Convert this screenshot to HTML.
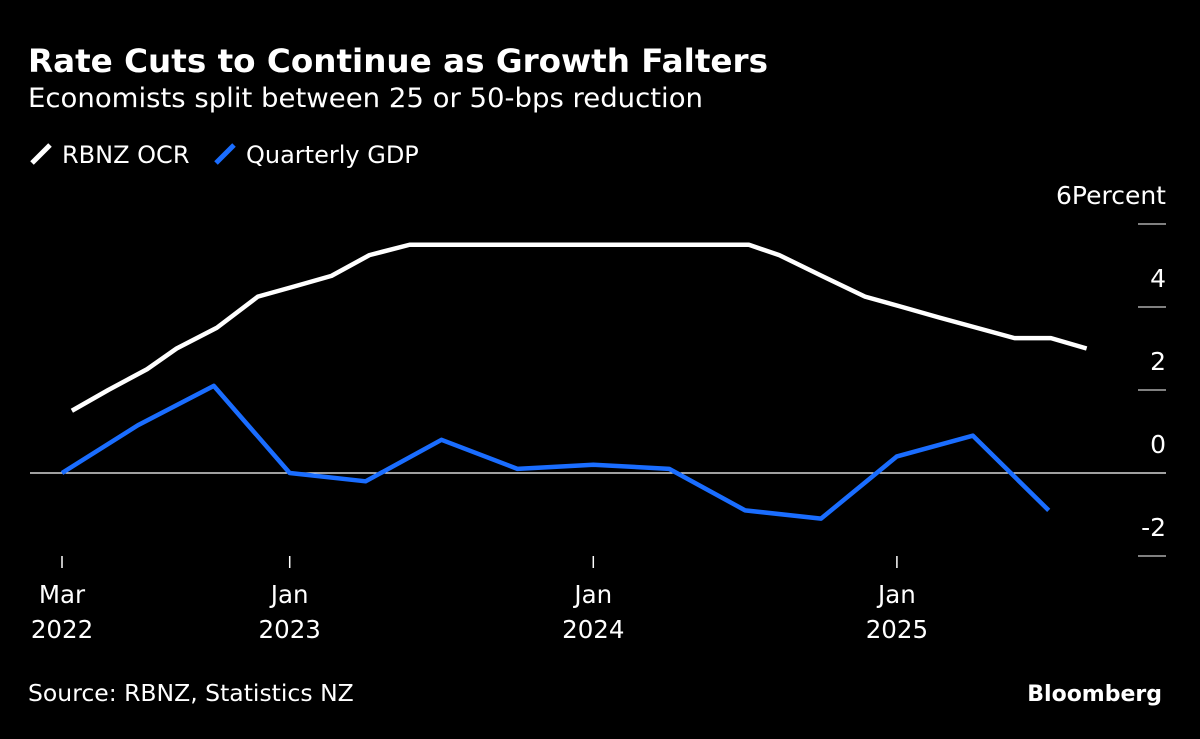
<!DOCTYPE html>
<html><head><meta charset="utf-8"><style>
body{margin:0;background:#000;width:1200px;height:735px;overflow:hidden;font-family:"DejaVu Sans","Liberation Sans",sans-serif;color:#fff}
svg text{font-family:"DejaVu Sans","Liberation Sans",sans-serif}
</style></head><body>
<svg width="1200" height="735">
<rect width="1200" height="735" fill="#000"/>
<text x="28" y="72" font-size="32" font-weight="bold" fill="#fff" textLength="740" lengthAdjust="spacingAndGlyphs">Rate Cuts to Continue as Growth Falters</text>
<text x="28" y="107" font-size="27" fill="#fff" textLength="675" lengthAdjust="spacingAndGlyphs">Economists split between 25 or 50-bps reduction</text>
<g>
<line x1="32" y1="163" x2="50" y2="145" stroke="#fff" stroke-width="5"/>
<text x="62" y="163" font-size="24" fill="#fff">RBNZ OCR</text>
<line x1="216" y1="163" x2="234" y2="145" stroke="#1a6dff" stroke-width="5"/>
<text x="246" y="163" font-size="24" fill="#fff">Quarterly GDP</text>
</g>
<g id="axes"></g>
<g id="marks"></g>
<text x="28" y="701" font-size="23.5" fill="#fff">Source: RBNZ, Statistics NZ</text>
<text x="1162" y="701" font-size="22" font-weight="bold" fill="#fff" text-anchor="end">Bloomberg</text>
</svg>
<script>
const yTicks=[6,4,2,0,-2];
const xTickPos=[0,3,7,11];
const xTickMonth=["Mar","Jan","Jan","Jan"];
const xTickYear=["2022","2023","2024","2025"];
const gdpX=[0,1,2,3,4,5,6,7,8,9,10,11,12,13];
const gdpVals=[0,1.15,2.1,0,-0.2,0.8,0.1,0.2,0.1,-0.9,-1.1,0.4,0.9,-0.9];
const ocrX=[0.13,0.61,1.12,1.51,2.04,2.58,3.07,3.55,4.05,4.58,9.05,9.45,10.01,10.58,11.07,11.55,12.05,12.55,13.03,13.5];
const ocrVals=[1.5,2.0,2.5,3.0,3.5,4.25,4.5,4.75,5.25,5.5,5.5,5.25,4.75,4.25,4.0,3.75,3.5,3.25,3.25,3.0];
const NS="http://www.w3.org/2000/svg";
const xs=i=>62+i*75.9;
const ys=v=>473-v*41.5;
const axes=document.getElementById('axes'),marks=document.getElementById('marks');
function mk(tag,attrs,parent){const e=document.createElementNS(NS,tag);for(const k in attrs)e.setAttribute(k,attrs[k]);parent.appendChild(e);return e;}
yTicks.forEach((v,i)=>{
 const l=mk('line',{x1:1138,x2:1166,y1:ys(v),y2:ys(v),stroke:'#fff','stroke-width':1},axes);
 
 
 const t=mk('text',{x:1166,y:ys(v)-20,'font-size':25,fill:'#fff','text-anchor':'end'},axes);
 t.textContent=i===0?v+'Percent':String(v);
 
 
});
const z=mk('line',{x1:30,x2:1166,y1:ys(0),y2:ys(0),stroke:'#fff','stroke-width':1.2},axes);


xTickPos.forEach((p,i)=>{
 const l=mk('line',{x1:xs(p),x2:xs(p),y1:556,y2:568,stroke:'#fff','stroke-width':1.5},axes);
 
 
 const t=mk('text',{x:xs(p),y:603,'font-size':24.5,fill:'#fff','text-anchor':'middle'},axes);
 t.textContent=xTickMonth[i];
 
 
 const t2=mk('text',{x:xs(p),y:638,'font-size':24.5,fill:'#fff','text-anchor':'middle'},axes);
 t2.textContent=xTickYear[i];
 
 
});
const gp=mk('polyline',{points:gdpX.map((x,i)=>xs(x)+','+ys(gdpVals[i])).join(' '),fill:'none',stroke:'#1a6dff','stroke-width':4.5,'stroke-linejoin':'round'},marks);


const op=mk('polyline',{points:ocrX.map((x,i)=>xs(x)+','+ys(ocrVals[i])).join(' '),fill:'none',stroke:'#fff','stroke-width':4.5,'stroke-linejoin':'round'},marks);


</script>
</body></html>
